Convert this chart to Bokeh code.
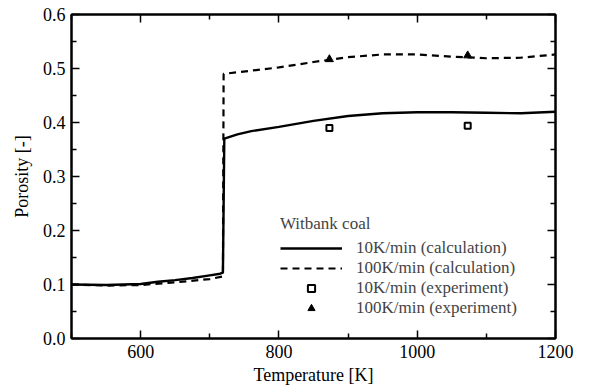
from bokeh.plotting import figure
from bokeh.models import (LinearAxis, FixedTicker, PrintfTickFormatter, Range1d,
                          Legend, LegendItem, CustomJSTickFormatter)
from bokeh.embed import file_html
from bokeh.resources import INLINE

# Calculated porosity curves (temperature in K)
T_calc_10 = [500, 550, 600, 625, 650, 675, 700, 715, 719, 721, 740, 760, 800,
             850, 900, 950, 1000, 1050, 1100, 1150, 1200]
por_calc_10 = [0.100, 0.099, 0.101, 0.105, 0.108, 0.112, 0.117, 0.120, 0.122,
               0.370, 0.378, 0.384, 0.392, 0.403, 0.412, 0.417, 0.419, 0.419,
               0.418, 0.417, 0.420]

T_calc_100 = [500, 550, 600, 650, 700, 719, 720, 760, 800, 850, 900, 950, 1000,
              1050, 1100, 1150, 1200]
por_calc_100 = [0.100, 0.098, 0.099, 0.104, 0.110, 0.115, 0.490, 0.496, 0.502,
                0.512, 0.521, 0.526, 0.526, 0.522, 0.519, 0.520, 0.526]

# Measured porosity
T_exp = [873, 1073]
por_exp_10 = [0.390, 0.394]
por_exp_100 = [0.517, 0.524]

x_ticks = [600, 800, 1000, 1200]
x_minor = [500, 700, 900, 1100]
y_ticks = [0.0, 0.1, 0.2, 0.3, 0.4, 0.5, 0.6]
y_minor = [0.05, 0.15, 0.25, 0.35, 0.45, 0.55]

FONT = "Liberation Serif"

p = figure(width=592, height=390, output_backend="svg", toolbar_location=None,
           x_range=Range1d(500, 1200), y_range=Range1d(0.0, 0.6),
           x_axis_label="Temperature [K]", y_axis_label="Porosity [-]",
           min_border_left=71, min_border_right=37, min_border_top=14,
           min_border_bottom=52)
p.grid.visible = False
p.background_fill_color = "white"
p.border_fill_color = "white"
p.outline_line_color = "black"
p.outline_line_width = 2

def style_axis(ax, ticks, minor, labels=True):
    ax.ticker = FixedTicker(ticks=ticks, minor_ticks=minor)
    ax.major_tick_in = 8
    ax.major_tick_out = 0
    ax.minor_tick_in = 5
    ax.minor_tick_out = 0
    ax.axis_line_width = 2
    ax.major_tick_line_width = 1.5
    ax.minor_tick_line_width = 1.5
    ax.axis_line_color = "black"
    ax.major_tick_line_color = "black"
    ax.minor_tick_line_color = "black"
    if labels:
        ax.major_label_text_font = FONT
        ax.major_label_text_font_size = "18px"
        ax.major_label_text_color = "black"
        ax.axis_label_text_font = FONT
        ax.axis_label_text_font_size = "18px"
        ax.axis_label_text_font_style = "normal"
        ax.axis_label_text_color = "black"
    else:
        # tick marks only on the mirrored frame edges
        ax.formatter = CustomJSTickFormatter(code="return ''")

style_axis(p.xaxis[0], x_ticks, x_minor)
style_axis(p.yaxis[0], y_ticks, y_minor)
p.xaxis[0].major_label_standoff = 6
p.xaxis[0].axis_label_standoff = 4
p.yaxis[0].formatter = PrintfTickFormatter(format="%.1f")
p.yaxis[0].major_label_standoff = 6
p.yaxis[0].axis_label_standoff = 8

top = LinearAxis()
style_axis(top, x_ticks, x_minor, labels=False)
p.add_layout(top, "above")
right = LinearAxis()
style_axis(right, y_ticks, y_minor, labels=False)
p.add_layout(right, "right")

r10 = p.line(T_calc_10, por_calc_10, line_color="black", line_width=2.4)
r100 = p.line(T_calc_100, por_calc_100, line_color="black", line_width=2.2,
              line_dash="7 5")
s10 = p.scatter(T_exp, por_exp_10, marker="square", size=6,
                fill_color="white", line_color="black", line_width=2)
s100 = p.scatter(T_exp, por_exp_100, marker="triangle", size=8,
                 fill_color="black", line_color="black")

legend = Legend(items=[
    LegendItem(label="10K/min (calculation)", renderers=[r10]),
    LegendItem(label="100K/min (calculation)", renderers=[r100]),
    LegendItem(label="10K/min (experiment)", renderers=[s10]),
    LegendItem(label="100K/min (experiment)", renderers=[s100]),
], location=(209, 20), title="Witbank coal")
legend.title_text_font = FONT
legend.title_text_font_size = "17px"
legend.title_text_font_style = "normal"
legend.title_standoff = 4
legend.label_text_font = FONT
legend.label_text_font_size = "17px"
legend.label_height = 18
legend.glyph_height = 18
legend.glyph_width = 62
legend.label_standoff = 14
legend.spacing = 0
legend.padding = 0
legend.margin = 0
legend.border_line_color = None
legend.background_fill_alpha = 0
p.add_layout(legend)

open("out.html", "w").write(file_html(p, INLINE))
